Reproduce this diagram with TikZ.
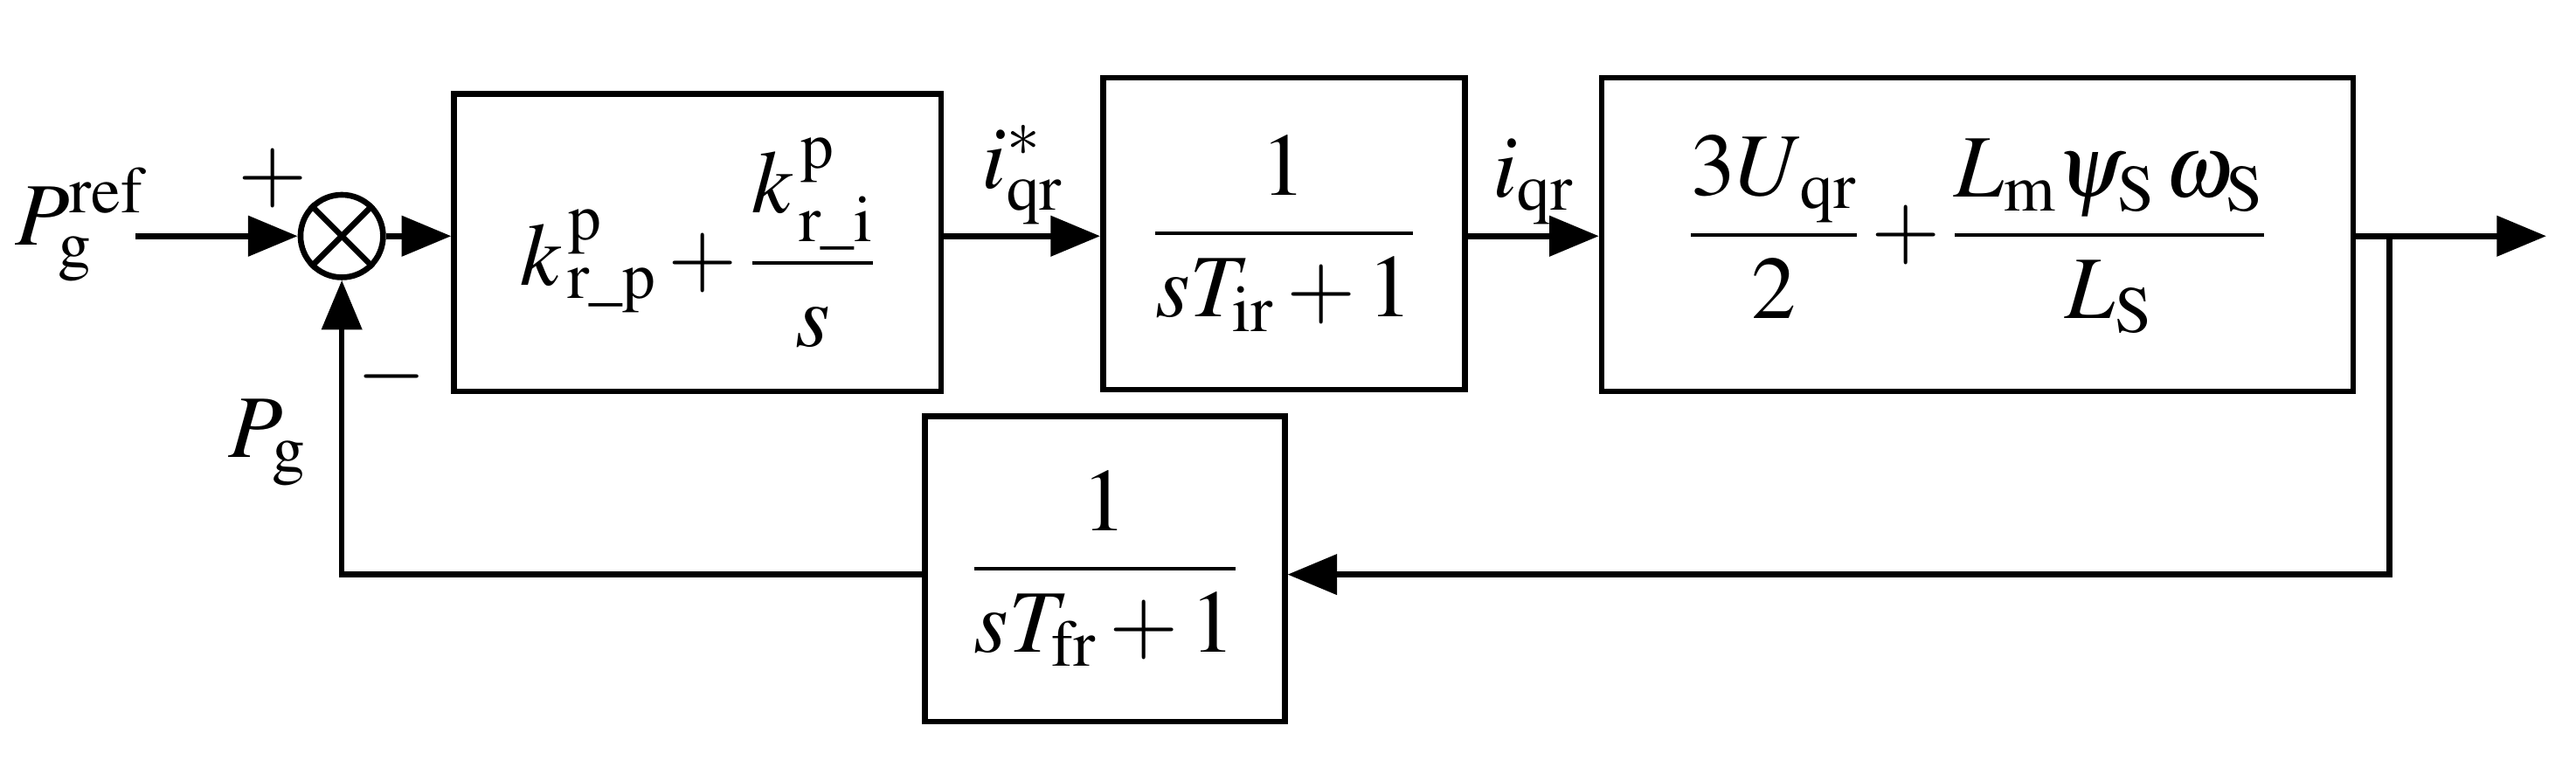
\documentclass[tikz,border=0pt]{standalone}
\usepackage{amsmath}
\usepackage{mathptmx}
\usepackage{fontspec}
\setmainfont{Liberation Serif}
\usetikzlibrary{arrows.meta}
\begin{document}
\begin{tikzpicture}[x=1pt,y=-1pt,line width=3.5pt,
  arr/.style={-{Triangle[length=30pt,width=24pt]}},
  every node/.style={font=\fontsize{54}{64}\selectfont}]
\useasboundingbox (0,0) rectangle (1560,473);
\node[draw,minimum width=295pt,minimum height=180pt,inner sep=0pt] (c1) at (422.5,147) {$k^{\,\mathrm{p}}_{\,\mathrm{r\_p}}+\dfrac{k^{\,\mathrm{p}}_{\,\mathrm{r\_i}}}{s}$};
\node[draw,minimum width=219pt,minimum height=189pt,inner sep=0pt] (c2) at (777.5,141.5) {$\dfrac{1}{sT_{\mathrm{ir}}+1}$};
\node[draw,minimum width=455pt,minimum height=190pt,inner sep=0pt] (c3) at (1197.5,142) {$\dfrac{3U_{\,\mathrm{qr}}}{2}+\dfrac{L_{\mathrm{m}}\psi_{\mathrm{S}}\,\omega_{\mathrm{S}}}{L_{\mathrm{S}}}$};
\node[draw,minimum width=218pt,minimum height=185pt,inner sep=0pt] (fb) at (669,344.5) {$\dfrac{1}{sT_{\mathrm{fr}}+1}$};
\node[draw,circle,minimum size=50pt,inner sep=0pt] (s) at (207,143) {};
\draw (s.45)--(s.225) (s.135)--(s.315);
\node (pref) at (48,136) {$P_{\mathrm{g}}^{\mathrm{ref}}$};
\coordinate (in) at (82,143);
\draw[arr] (in) -- (s.west);
\draw[arr] (s.east) -- (c1.west|-s);
\draw[arr] (c1.east|-s) -- node[above=2pt] {$i^{*}_{\mathrm{qr}}$} (c2.west|-s);
\draw[arr] (c2.east|-s) -- node[above=2pt] {$i_{\mathrm{qr}}$} (c3.west|-s);
\coordinate (br) at (1447,143);
\coordinate (out) at (1542,143);
\draw[arr] (c3.east|-s) -- (out);
\coordinate (d) at (1447,348);
\coordinate (l) at (207,348);
\draw[arr] (br) -- (d) -- (fb.east|-d);
\draw[arr] (fb.west|-d) -- (l) -- (s.south);
\node at (165,108) {$\boldsymbol{+}$};
\node at (237,228) {$\boldsymbol{-}$};
\node at (162,268) {$P_{\mathrm{g}}$};
\end{tikzpicture}
\end{document}
